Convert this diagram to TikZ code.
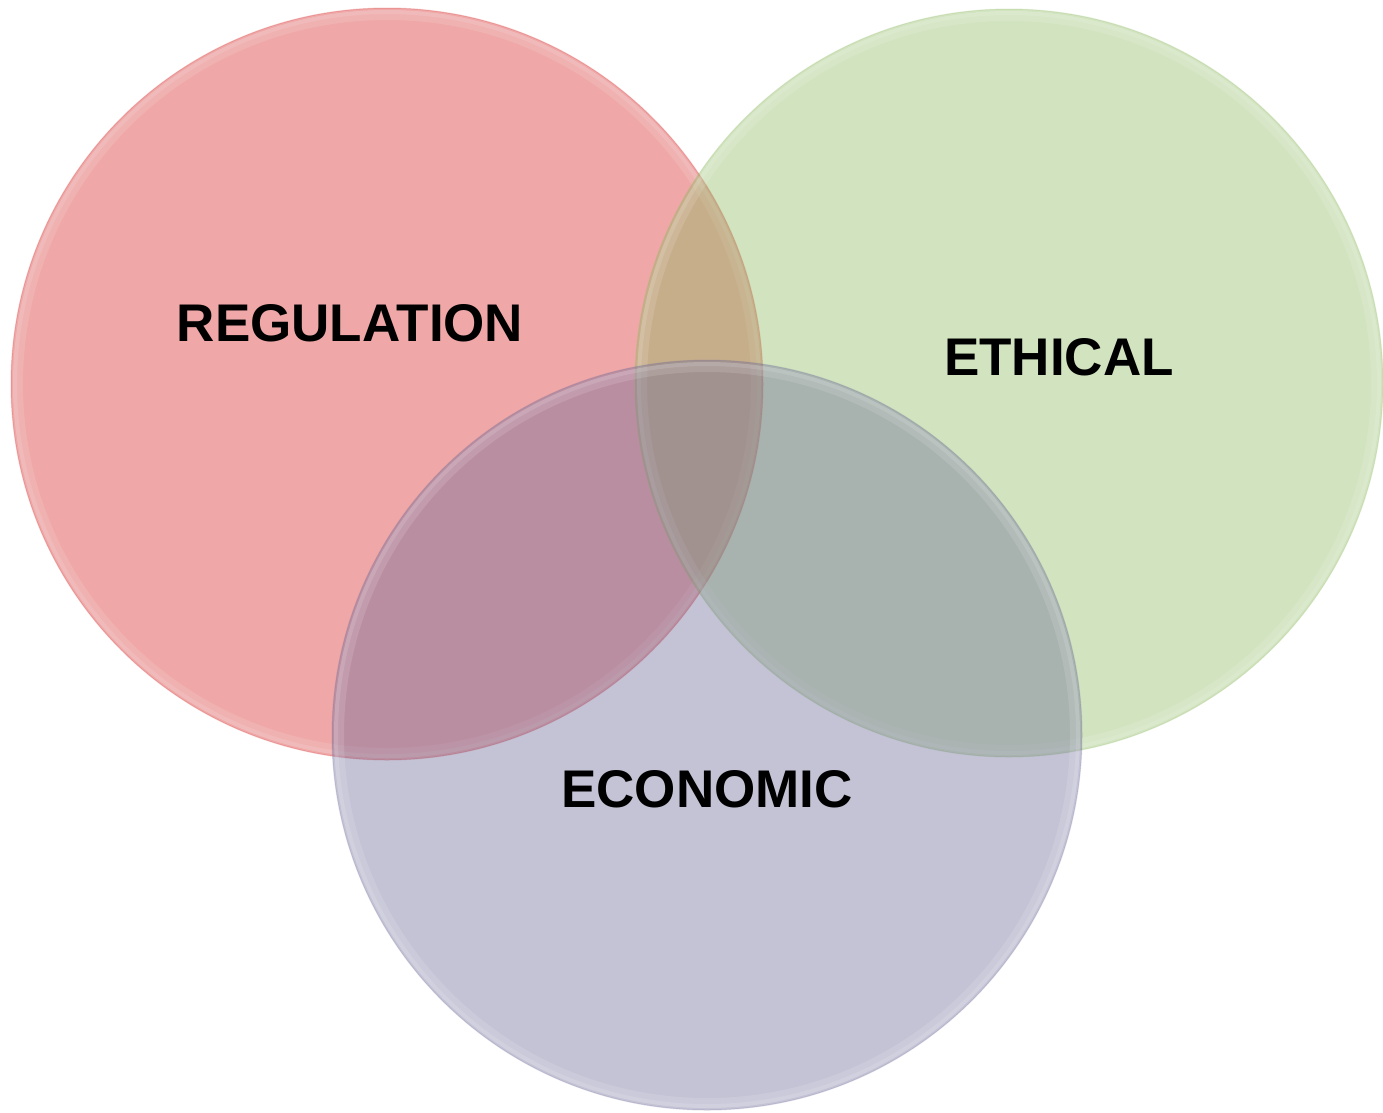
\documentclass[tikz,border=0pt]{standalone}
\usepackage{fontspec}
\setmainfont{Liberation Sans}
\definecolor{regc}{RGB}{215,35,35}
\definecolor{ethc}{RGB}{140,186,96}
\definecolor{ecoc}{RGB}{108,106,152}
\begin{document}
\begin{tikzpicture}[x=1pt,y=-1pt,
  venn/.style={fill=#1,fill opacity=0.4,draw=#1,draw opacity=0.22,line width=1pt},
  rim/.style={draw=white,draw opacity=0.12,line width=#1},
  lab/.style={font=\fontsize{53}{60}\selectfont\bfseries,text=black,inner sep=0pt}]
\useasboundingbox (0,0) rectangle (1383,1112);
\fill[white] (0,0) rectangle (1383,1112);
% circles
\path[venn=regc] (387,384) circle[radius=376];
\path[rim=4pt] (387,384) circle[radius=372];
\path[rim=10pt] (387,384) circle[radius=369];
\path[venn=ethc] (1009,383) circle[radius=374];
\path[rim=4pt] (1009,383) circle[radius=370];
\path[rim=10pt] (1009,383) circle[radius=367];
\path[venn=ecoc] (707,735) circle[radius=375];
\path[rim=4pt] (707,735) circle[radius=371];
\path[rim=10pt] (707,735) circle[radius=368];
% labels
\node[lab] (reg) at (350,323) {REGULATION};
\node[lab] (eth) at (1059,357) {ETHICAL};
\node[lab] (eco) at (707,789) {ECONOMIC};
\end{tikzpicture}
\end{document}
